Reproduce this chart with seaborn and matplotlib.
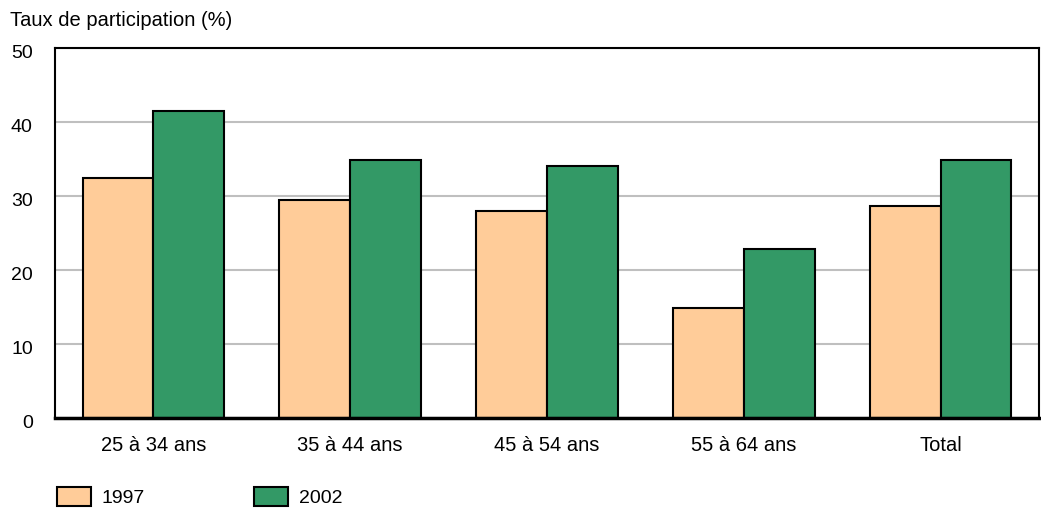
import matplotlib
matplotlib.use("Agg")
import matplotlib.pyplot as plt
import matplotlib.transforms as mtransforms
import seaborn as sns
import pandas as pd
from matplotlib.patches import Patch

categories = ["25 à 34 ans", "35 à 44 ans", "45 à 54 ans", "55 à 64 ans", "Total"]
series_names = ["1997", "2002"]
values_1997 = [32.5, 29.5, 28.0, 14.8, 28.6]
values_2002 = [41.5, 34.8, 34.0, 22.9, 34.8]
y_ticks = [0, 10, 20, 30, 40, 50]
title_text = "Taux de participation (%)"
colors = ["#FFCC99", "#339966"]

sns.set_theme(style="white")
plt.rcParams['font.family'] = ['Liberation Sans', 'DejaVu Sans']
plt.rcParams['text.color'] = 'black'
plt.rcParams['xtick.color'] = 'black'
plt.rcParams['ytick.color'] = 'black'

df = pd.DataFrame({
    "cat": categories * 2,
    "year": [series_names[0]] * len(categories) + [series_names[1]] * len(categories),
    "val": values_1997 + values_2002,
})

fig = plt.figure(figsize=(10.41, 5.12), dpi=100)
ax = fig.add_axes([55/1041, 1 - 418/512, (1039-55)/1041, (418-48)/512])

sns.barplot(data=df, x="cat", y="val", hue="year", palette=colors, width=0.72,
            edgecolor="black", linewidth=1.5, saturation=1, ax=ax, legend=False)

ax.set_ylim(0, 50)
ax.set_xlim(-0.5, len(categories) - 0.5)
ax.set_yticks(y_ticks)
ax.set_yticklabels([str(t) for t in y_ticks], fontsize=14)
ax.set_xlabel("")
ax.set_ylabel("")
ax.yaxis.grid(True, color="#BFBFBF", linewidth=1.5)
ax.set_axisbelow(True)
ax.tick_params(axis="y", length=0, pad=16)
ax.tick_params(axis="x", length=0, pad=13)
offset = mtransforms.ScaledTranslation(0, -4/100, fig.dpi_scale_trans)
for lab in ax.get_yticklabels():
    lab.set_transform(lab.get_transform() + offset)
for lab in ax.get_xticklabels():
    lab.set_fontsize(14.5)

for side in ["left", "top", "right"]:
    ax.spines[side].set_color("black")
    ax.spines[side].set_linewidth(1.5)
ax.spines["bottom"].set_color("black")
ax.spines["bottom"].set_linewidth(2.5)

fig.text(10/1041, 1 - 20/512, title_text, fontsize=14.5, va="center", ha="left")

handles = [Patch(facecolor=colors[i], edgecolor="black", linewidth=1.5, label=series_names[i])
           for i in range(2)]
fig.legend(handles=handles, loc="center left", bbox_to_anchor=(57/1041, 1 - 497/512), ncol=2,
           frameon=False, fontsize=14, handlelength=1.75, handleheight=1.1,
           columnspacing=5.6, handletextpad=0.55, borderpad=0, borderaxespad=0)

fig.savefig("out.png", dpi=100)
